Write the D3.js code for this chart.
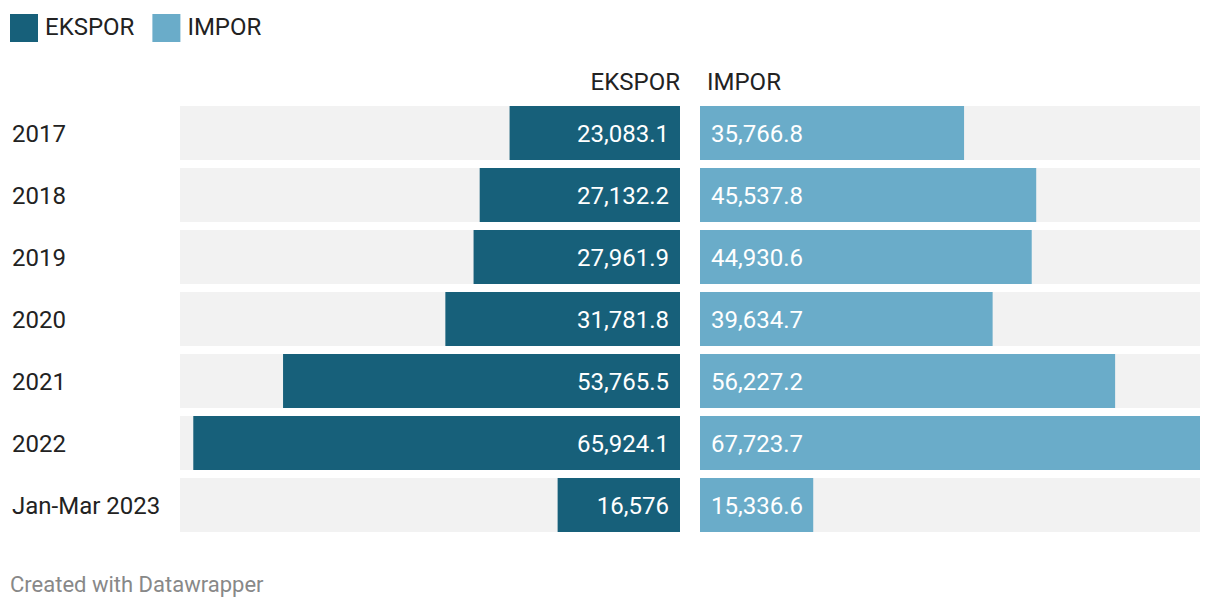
<!DOCTYPE html>
<html><head><meta charset="utf-8">
<script src="https://cdn.jsdelivr.net/npm/d3@7"></script>
<style>
body{margin:0;background:#fff;font-family:Roboto,sans-serif;}
</style></head>
<body><svg id="c" width="1220" height="610"></svg>
<script>
const categories = ["2017","2018","2019","2020","2021","2022","Jan-Mar 2023"];
const ekspor = [23083.1,27132.2,27961.9,31781.8,53765.5,65924.1,16576];
const impor = [35766.8,45537.8,44930.6,39634.7,56227.2,67723.7,15336.6];
const seriesNames = ["EKSPOR","IMPOR"];
const colors = ["#17607a","#6aacc9"];

const svg = d3.select("#c");
const fmt = v => d3.format(",")(v);
const maxV = d3.max(ekspor.concat(impor));
const w = d3.scaleLinear().domain([0,maxV]).range([0,500]);
const y = d3.scaleBand().domain(categories).range([106,540]).padding(0);
const bh = 54;
const fs = 24;

// legend
const lg = svg.append("g");
let lx = 10;
seriesNames.forEach((s,i)=>{
  lg.append("rect").attr("x",lx).attr("y",14).attr("width",28).attr("height",28).attr("fill",colors[i]);
  const t = lg.append("text").attr("x",lx+35).attr("y",34.5).attr("font-size",fs).attr("fill","#222").text(s);
  lx += 35 + t.node().getComputedTextLength() + 18;
});

// headers
svg.append("text").attr("x",680).attr("y",90).attr("text-anchor","end").attr("font-size",fs).attr("fill","#222").text(seriesNames[0]);
svg.append("text").attr("x",707).attr("y",90).attr("font-size",fs).attr("fill","#222").text(seriesNames[1]);

categories.forEach((c,i)=>{
  const y0 = y(c);
  const ty = y0+bh/2+8.5;
  svg.append("text").attr("x",12).attr("y",ty).attr("font-size",fs).attr("fill","#222").text(c);
  svg.append("rect").attr("x",180).attr("y",y0).attr("width",500).attr("height",bh).attr("fill","#f2f2f2");
  svg.append("rect").attr("x",700).attr("y",y0).attr("width",500).attr("height",bh).attr("fill","#f2f2f2");
  svg.append("rect").attr("x",680-w(ekspor[i])).attr("y",y0).attr("width",w(ekspor[i])).attr("height",bh).attr("fill",colors[0]);
  svg.append("rect").attr("x",700).attr("y",y0).attr("width",w(impor[i])).attr("height",bh).attr("fill",colors[1]);
  svg.append("text").attr("x",669).attr("y",ty).attr("text-anchor","end").attr("font-size",fs).attr("fill","#fff").text(fmt(ekspor[i]));
  svg.append("text").attr("x",711).attr("y",ty).attr("font-size",fs).attr("fill","#fff").text(fmt(impor[i]));
});

svg.append("text").attr("x",10).attr("y",592).attr("font-size",22).attr("fill","#888").text("Created with Datawrapper");
</script></body></html>
